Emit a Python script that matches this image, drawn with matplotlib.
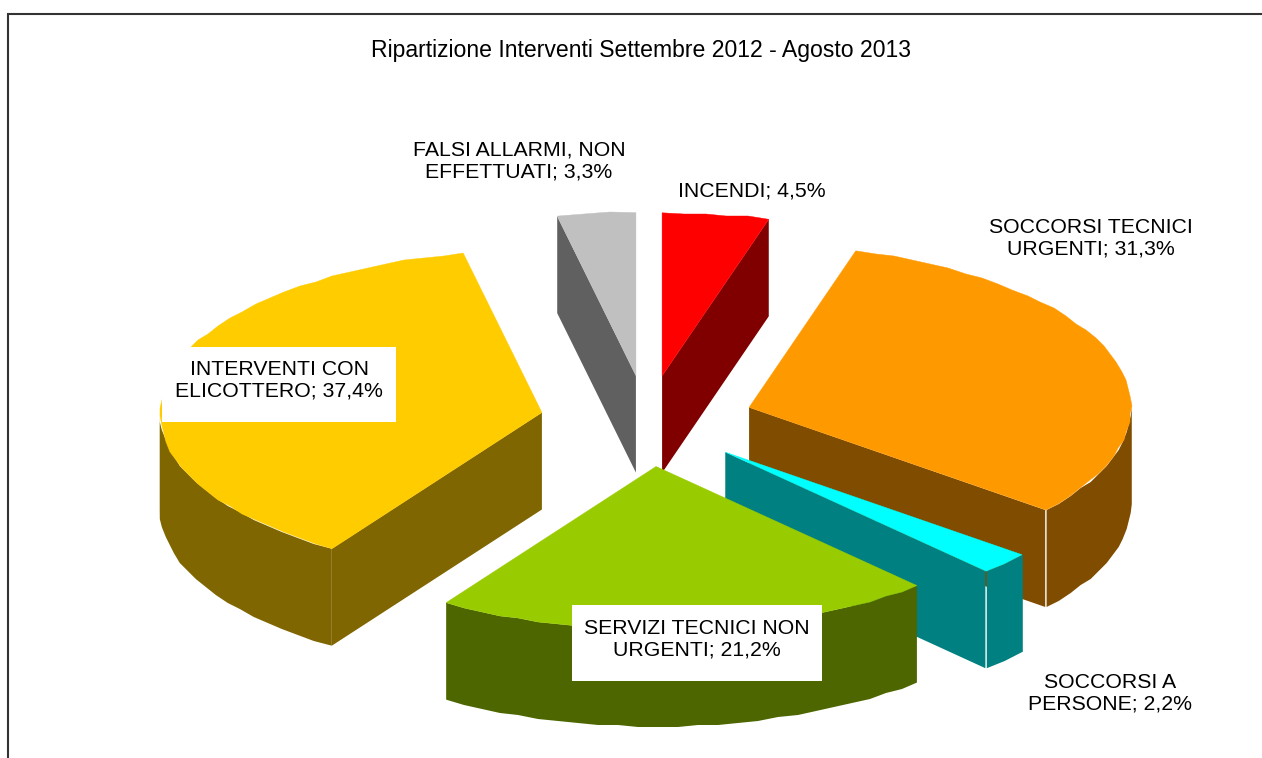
import numpy as np
import matplotlib
matplotlib.use("Agg")
import matplotlib.pyplot as plt
from matplotlib.patches import Rectangle

plt.rcParams['font.family'] = ['Liberation Sans', 'DejaVu Sans']

TITLE = "Ripartizione Interventi Settembre 2012 - Agosto 2013"
categories = ["INCENDI", "SOCCORSI TECNICI\nURGENTI", "SOCCORSI A\nPERSONE",
              "SERVIZI TECNICI NON\nURGENTI", "INTERVENTI CON\nELICOTTERO",
              "FALSI ALLARMI, NON\nEFFETTUATI"]
values = [4.5, 31.3, 2.2, 21.2, 37.4, 3.3]

top_colors = ["#FF0000", "#FF9900", "#00FFFF", "#99CC00", "#FFCC00", "#C0C0C0"]
side_colors = ["#800000", "#804D00", "#008080", "#4D6600", "#806600", "#606060"]
corner_gaps = [0, 1.4, 1.4, 0, 0.4, 0]
label_pos = [(752, 191), (1091, 238), (1110, 693), (697, 639), (279, 380), (519, 161)]
label_boxes = [None, None, None, (572, 605, 250, 76), (162, 347, 234, 75), None]
draw_order = [5, 0, 1, 2, 4, 3]

CX, CY, RX, RY, DEPTH, EXPLODE = 647, 421, 382, 163, 97, 0.28

fig = plt.figure(figsize=(12.62, 7.58), dpi=100, facecolor="white")
ax = fig.add_axes([0, 0, 1, 1])
ax.set_xlim(0, 1262)
ax.set_ylim(758, 0)
ax.axis("off")

ax.plot([8, 8, 1262], [758, 14, 14], color="#333333", lw=1.5, solid_joinstyle="miter")
ax.text(641, 50, TITLE, ha="center", va="center", fontsize=16.6, color="black")

fracs = np.array(values) / sum(values)
edges = np.concatenate([[0], np.cumsum(fracs)]) * 2 * np.pi


def pt(c, a, r=1.0):
    return np.array([c[0] + r * RX * np.sin(a), c[1] - r * RY * np.cos(a)])


def arc(c, a0, a1):
    n = max(2, int(abs(a1 - a0) / np.radians(3.0)) + 1)
    t = np.linspace(a0, a1, n)
    x = c[0] + RX * np.sin(t)
    y = c[1] - RY * np.cos(t)
    # coarse raster look of the original curve
    inner = np.s_[1:-1]
    x[inner] = np.round(x[inner] / 2) * 2
    y[inner] = np.round(y[inner] / 2) * 2
    return np.column_stack([x, y])


for i in draw_order:
    a0, a1 = edges[i], edges[i + 1]
    mid = (a0 + a1) / 2
    c = (CX + EXPLODE * RX * np.sin(mid), CY - EXPLODE * RY * np.cos(mid))
    top = arc(c, a0, a1)
    down = np.array([0, DEPTH])
    gap = corner_gaps[i] / 2

    # radial cut faces
    if np.sin(a1) > 1e-6:
        e = pt(c, a1) - [gap, 0]
        ax.fill(*zip(c, e, e + down, np.array(c) + down), color=side_colors[i], lw=0, zorder=2)
    if np.sin(a0) < -1e-6:
        e = pt(c, a0) - [gap, 0]
        ax.fill(*zip(c, e, e + down, np.array(c) + down), color=side_colors[i], lw=0, zorder=2)

    # outer rim (lower half of the ellipse only)
    r0, r1 = max(a0, np.pi / 2), min(a1, 3 * np.pi / 2)
    if r1 > r0:
        rim = arc(c, r0, r1)
        shift = np.array([gap if np.sin(a1) > 1e-6 else -gap, 0])
        rim = rim + shift
        poly = np.vstack([rim, (rim + down)[::-1]])
        ax.fill(poly[:, 0], poly[:, 1], color=side_colors[i], lw=0, zorder=2)

    # top face
    poly = np.vstack([[c], top])
    ax.fill(poly[:, 0], poly[:, 1], color=top_colors[i], lw=0.3, edgecolor=top_colors[i], zorder=2)

    # move this slice's layer order into the draw order
    for art in ax.patches[-4:]:
        pass

for i, (cat, val) in enumerate(zip(categories, values)):
    box = label_boxes[i]
    if box is not None:
        ax.add_patch(Rectangle((box[0], box[1]), box[2], box[3], facecolor="white", edgecolor="none", zorder=5))
    label = f"{cat}; {val:.1f}%".replace(".", ",")
    ax.text(label_pos[i][0], label_pos[i][1], label, ha="center", va="center", fontsize=15.3,
            linespacing=1.16, color="black", zorder=6)

fig.savefig("out.png", dpi=100, facecolor="white")
